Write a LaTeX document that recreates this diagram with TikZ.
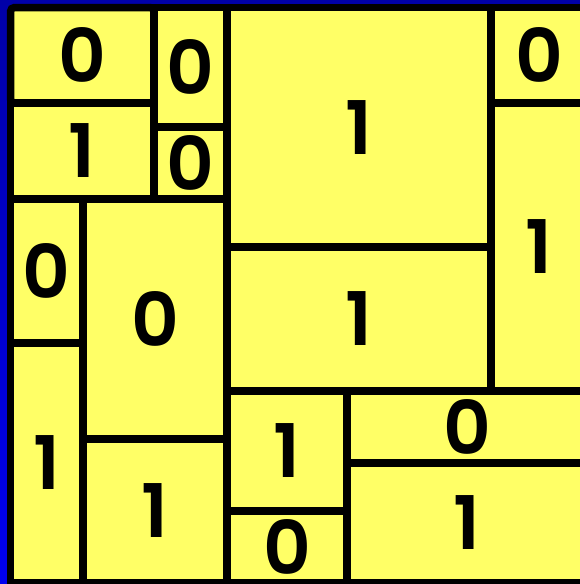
\documentclass[tikz,border=0pt]{standalone}
\usepackage{fontspec}
\setmainfont{Poppins}[BoldFont={Poppins SemiBold}]
\usepackage{xcolor}
\definecolor{cellfill}{HTML}{FFFF66}
\definecolor{deepblue}{HTML}{0000A8}
\definecolor{brightblue}{HTML}{0000F0}
\usepackage{tikz}
\usetikzlibrary{positioning}

\begin{document}
\begin{tikzpicture}[
  x=1pt, y=-1pt,
  font=\fontsize{74}{74}\selectfont\bfseries,
  cell/.style={draw=black, line width=7.5pt, fill=cellfill, anchor=north west,
               inner sep=0pt, outer sep=0pt, align=center},
  cellsize/.style 2 args={minimum width=#1pt, minimum height=#2pt}
]
  \useasboundingbox (0,0) rectangle (580,584);
  \clip (0,0) rectangle (580,584);
  \shade[top color=deepblue, bottom color=brightblue] (0,0) rectangle (580,584);

  % left block
  \node[cell, cellsize={143.5}{95.5}, rounded corners=4pt] (c1) at (10.5,7.5) {0};
  \node[cell, cellsize={143.5}{96}]   (c2)  at (10.5,103) {1};
  \node[cell, cellsize={73}{119.5}]   (c3)  at (154,7.5)  {0};
  \node[cell, cellsize={73}{72}]      (c4)  at (154,127)  {0};
  \node[cell, cellsize={72.5}{144}]   (c9)  at (10.5,199) {0};
  \node[cell, cellsize={72.5}{240}]   (c10) at (10.5,343) {1};
  \node[cell, cellsize={144}{240}]    (c11) at (83,199)   {0};
  \node[cell, cellsize={144}{144}]    (c12) at (83,439)   {1};

  % upper right block
  \node[cell, cellsize={264}{239.5}]  (c5)  at (227,7.5)  {1};
  \node[cell, cellsize={264}{144}]    (c6)  at (227,247)  {1};
  \node[cell, cellsize={96}{95.5}]    (c7)  at (491,7.5)  {0};
  \node[cell, cellsize={96}{288}]     (c8)  at (491,103)  {1};

  % lower right block
  \node[cell, cellsize={120}{120}]    (c13) at (227,391)  {1};
  \node[cell, cellsize={120}{72}]     (c14) at (227,511)  {0};
  \node[cell, cellsize={240}{72}]     (c15) at (347,391)  {0};
  \node[cell, cellsize={240}{120}]    (c16) at (347,463)  {1};
\end{tikzpicture}
\end{document}
